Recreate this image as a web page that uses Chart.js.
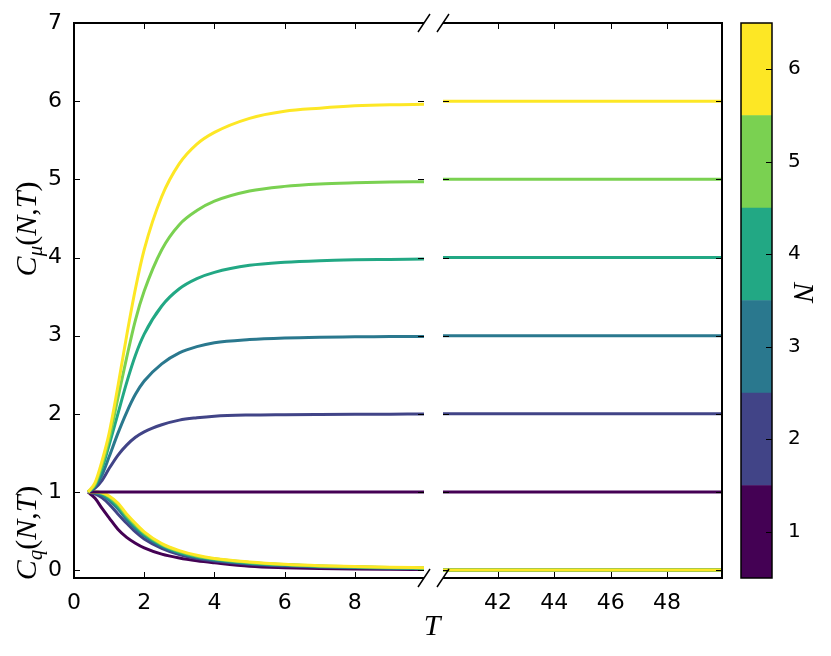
<!DOCTYPE html>
<html>
<head>
<meta charset="utf-8">
<script src="https://cdn.jsdelivr.net/npm/chart.js@4"></script>
<style>
  html, body { margin: 0; padding: 0; background: #fff; }
  #wrap { position: relative; width: 831px; height: 656px; overflow: hidden; }
  canvas { position: absolute; top: 0; }
  .lbl { position: absolute; font-family: "Liberation Serif", serif; font-size: 30px; white-space: nowrap; line-height: 1; color: #000; }
  .lbl sub { font-size: 0.7em; vertical-align: -0.3em; line-height: 0; }
  .rot { transform: translate(-50%, -50%) rotate(-90deg); }
  .rotcw { transform: translate(-50%, -50%) rotate(90deg); }
  .ctr { transform: translate(-50%, -50%); }
</style>
</head>
<body>
<div id="wrap">
  <canvas id="left" style="left:0;width:434px;height:656px" width="434" height="656"></canvas>
  <canvas id="right" style="left:434px;width:300px;height:656px" width="300" height="656"></canvas>
  <canvas id="cbar" style="left:734px;width:97px;height:656px" width="97" height="656"></canvas>
  <div class="lbl rot" style="left:26px;top:229px"><i>C</i><sub><i>μ</i></sub>(<i>N</i>,<i>T</i>)</div>
  <div class="lbl rot" style="left:26px;top:533px"><i>C</i><sub><i>q</i></sub>(<i>N</i>,<i>T</i>)</div>
  <div class="lbl ctr" style="left:432px;top:625px"><i>T</i></div>
  <div class="lbl rotcw" style="left:804px;top:292px"><i>N</i></div>
</div>
<script>
// N values and their colours (viridis, 6 steps)
const nValues = [1, 2, 3, 4, 5, 6];
const colors = ["#440154", "#414487", "#2a788e", "#22a884", "#7ad151", "#fde725"];

// left panel: T from 0.4 to 10
const tLeft = [0.4, 0.6, 0.8, 1.0, 1.25, 1.5, 1.75, 2, 2.5, 3, 3.5, 4, 5, 6, 7, 8, 9, 10];

// C_mu(N,T)
const mu1 = [1, 1, 1, 1, 1, 1, 1, 1, 1, 1, 1, 1, 1, 1, 1, 1, 1, 1];
const mu2 = [1, 1.05, 1.15, 1.3, 1.47, 1.6, 1.7, 1.77, 1.86, 1.92, 1.95, 1.97, 1.985, 1.99, 1.993, 1.995, 1.996, 1.997];
const mu3 = [1, 1.07, 1.22, 1.45, 1.75, 2.02, 2.25, 2.42, 2.64, 2.78, 2.86, 2.91, 2.95, 2.97, 2.98, 2.985, 2.99, 2.99];
const mu4 = [1, 1.09, 1.3, 1.6, 2.0, 2.4, 2.75, 3.02, 3.38, 3.6, 3.73, 3.81, 3.9, 3.94, 3.96, 3.97, 3.975, 3.98];
const mu5 = [1, 1.1, 1.35, 1.68, 2.2, 2.72, 3.2, 3.57, 4.1, 4.42, 4.6, 4.72, 4.85, 4.91, 4.94, 4.955, 4.965, 4.97];
const mu6 = [1, 1.12, 1.4, 1.75, 2.35, 3.0, 3.6, 4.1, 4.78, 5.2, 5.45, 5.6, 5.78, 5.87, 5.91, 5.94, 5.955, 5.96];

// C_q(N,T)
const q1 = [1, 0.92, 0.79, 0.67, 0.525, 0.42, 0.345, 0.285, 0.205, 0.155, 0.12, 0.094, 0.05, 0.032, 0.022, 0.016, 0.012, 0.009];
const q2 = [1, 0.975, 0.925, 0.845, 0.72, 0.6, 0.49, 0.4, 0.28, 0.2, 0.15, 0.118, 0.075, 0.052, 0.038, 0.03, 0.024, 0.018];
const q3 = [1, 0.99, 0.96, 0.895, 0.785, 0.65, 0.535, 0.44, 0.305, 0.22, 0.165, 0.13, 0.085, 0.062, 0.046, 0.036, 0.029, 0.022];
const q4 = [1, 0.995, 0.975, 0.92, 0.815, 0.68, 0.56, 0.46, 0.32, 0.23, 0.175, 0.14, 0.093, 0.068, 0.05, 0.04, 0.032, 0.025];
const q5 = [1, 1, 0.985, 0.94, 0.84, 0.7, 0.58, 0.475, 0.33, 0.24, 0.18, 0.145, 0.099, 0.072, 0.054, 0.044, 0.035, 0.028];
const q6 = [1, 1, 0.99, 0.95, 0.86, 0.72, 0.6, 0.49, 0.34, 0.25, 0.19, 0.15, 0.105, 0.076, 0.058, 0.048, 0.038, 0.031];

// right panel: T from 40 to 50, curves have settled
const tRight = [40, 50];
const muRight = [1, 2, 3, 4, 5, 6];
const qRight = [0.001, 0.001, 0.002, 0.002, 0.002, 0.003];

// tick labels
const yTicks = [0, 1, 2, 3, 4, 5, 6, 7];
const xTicksLeft = [0, 2, 4, 6, 8];
const xTicksRight = [42, 44, 46, 48];
const cbarTicks = [1, 2, 3, 4, 5, 6];

const muLeft = [mu1, mu2, mu3, mu4, mu5, mu6];
const qLeft = [q1, q2, q3, q4, q5, q6];

const tickFont = { family: "DejaVu Sans", size: 22 };

function pts(ts, vs) {
  return ts.map((t, i) => ({ x: t, y: vs[i] }));
}

function leftSets() {
  const sets = [];
  nValues.forEach((n, i) => {
    sets.push({ data: pts(tLeft, qLeft[i]), borderColor: colors[i], order: 13 - n });
    sets.push({ data: pts(tLeft, muLeft[i]), borderColor: colors[i], order: 7 - n });
  });
  return sets;
}

function rightSets() {
  const sets = [];
  nValues.forEach((n, i) => {
    sets.push({ data: pts(tRight, [qRight[i], qRight[i]]), borderColor: colors[i], order: 13 - n });
    sets.push({ data: pts(tRight, [muRight[i], muRight[i]]), borderColor: colors[i], order: 7 - n });
  });
  return sets;
}

// spines, inward ticks and the // break marks
function frame(side, xTicks) {
  return {
    id: "frame",
    afterDraw(chart) {
      const { ctx, chartArea: a, scales: { x, y } } = chart;
      ctx.save();
      ctx.strokeStyle = "#000";
      ctx.lineWidth = 1;
      ctx.beginPath();
      xTicks.forEach(v => {
        const px = Math.round(x.getPixelForValue(v)) + 0.5;
        ctx.moveTo(px, a.bottom); ctx.lineTo(px, a.bottom - 6);
        ctx.moveTo(px, a.top); ctx.lineTo(px, a.top + 6);
      });
      yTicks.forEach(v => {
        const py = Math.round(y.getPixelForValue(v)) + 0.5;
        ctx.moveTo(a.left, py); ctx.lineTo(a.left + 6, py);
        ctx.moveTo(a.right, py); ctx.lineTo(a.right - 6, py);
      });
      ctx.stroke();

      ctx.lineWidth = 2;
      ctx.beginPath();
      if (side === "left") {
        ctx.moveTo(a.right, a.top); ctx.lineTo(a.left, a.top);
        ctx.lineTo(a.left, a.bottom); ctx.lineTo(a.right, a.bottom);
      } else {
        ctx.moveTo(a.left, a.top); ctx.lineTo(a.right, a.top);
        ctx.lineTo(a.right, a.bottom); ctx.lineTo(a.left, a.bottom);
      }
      ctx.stroke();

      // break marks
      const xb = side === "left" ? a.right : a.left;
      ctx.lineWidth = 1.5;
      ctx.beginPath();
      [a.top, a.bottom].forEach(yb => {
        ctx.moveTo(xb - 6, yb + 9); ctx.lineTo(xb + 6, yb - 9);
      });
      ctx.stroke();
      ctx.restore();
    }
  };
}

function panelOptions(xmin, xmax, xTicks, padLeft, padRight, showY) {
  return {
    responsive: false,
    animation: false,
    layout: { padding: { top: 23, right: padRight, left: padLeft, bottom: 0 } },
    plugins: { legend: { display: false }, tooltip: { enabled: false } },
    elements: {
      point: { radius: 0 },
      line: { borderWidth: 3, cubicInterpolationMode: "monotone" }
    },
    scales: {
      x: {
        type: "linear", min: xmin, max: xmax,
        grid: { display: false }, border: { display: false },
        afterBuildTicks: s => { s.ticks = xTicks.map(v => ({ value: v })); },
        afterFit: s => { s.height = 78; },
        ticks: { padding: 4, font: tickFont, color: "#000", maxRotation: 0 }
      },
      y: {
        type: "linear", min: -0.1, max: 7,
        grid: { display: false }, border: { display: false },
        afterBuildTicks: s => { s.ticks = yTicks.map(v => ({ value: v })); },
        afterFit: s => { s.width = showY ? 74 : 0; },
        ticks: { display: showY, padding: 4, font: tickFont, color: "#000" }
      }
    }
  };
}

new Chart(document.getElementById("left"), {
  type: "line",
  data: { datasets: leftSets() },
  options: panelOptions(0, 9.97, xTicksLeft, 0, 10, true),
  plugins: [frame("left", xTicksLeft)]
});

new Chart(document.getElementById("right"), {
  type: "line",
  data: { datasets: rightSets() },
  options: panelOptions(40.05, 49.95, xTicksRight, 9, 12, false),
  plugins: [frame("right", xTicksRight)]
});

// colour bar as floating bars, one per N
new Chart(document.getElementById("cbar"), {
  type: "bar",
  data: {
    labels: [""],
    datasets: nValues.map((n, i) => ({
      data: [[n - 0.5, n + 0.5]],
      backgroundColor: colors[i],
      borderWidth: 0,
      grouped: false,
      barPercentage: 1,
      categoryPercentage: 1
    }))
  },
  options: {
    responsive: false,
    animation: false,
    layout: { padding: { top: 23, bottom: 78, left: 7, right: 0 } },
    plugins: { legend: { display: false }, tooltip: { enabled: false } },
    scales: {
      x: { display: false },
      y: {
        position: "right", min: 0.5, max: 6.5,
        grid: { display: false }, border: { display: false },
        afterBuildTicks: s => { s.ticks = cbarTicks.map(v => ({ value: v })); },
        afterFit: s => { s.width = 59; },
        ticks: { padding: 8, font: { family: "DejaVu Sans", size: 20 }, color: "#000" }
      }
    }
  },
  plugins: [{
    id: "outline",
    afterDraw(chart) {
      const { ctx, chartArea: a, scales: { y } } = chart;
      ctx.save();
      ctx.strokeStyle = "#000";
      ctx.lineWidth = 1;
      ctx.beginPath();
      cbarTicks.forEach(v => {
        const py = Math.round(y.getPixelForValue(v)) + 0.5;
        ctx.moveTo(a.right, py); ctx.lineTo(a.right - 6, py);
      });
      ctx.stroke();
      ctx.lineWidth = 1.5;
      ctx.strokeRect(a.left, a.top, a.right - a.left, a.bottom - a.top);
      ctx.restore();
    }
  }]
});
</script>
</body>
</html>
